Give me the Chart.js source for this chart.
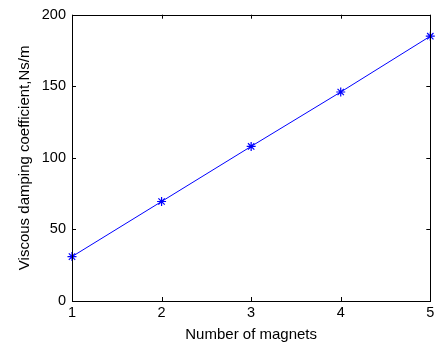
<!DOCTYPE html>
<html>
<head>
<meta charset="utf-8">
<script src="https://cdn.jsdelivr.net/npm/chart.js@4"></script>
<style>
    html, body { margin: 0; padding: 0; background: #fff; }
    #wrap { width: 436px; height: 345px; position: relative; }
</style>
</head>
<body>
<div id="wrap"><canvas id="canvas"></canvas></div>
<script>
const magnets = [1, 2, 3, 4, 5];
const damping = [31, 69.5, 108, 146, 185];
const yTicks = [0, 50, 100, 150, 200];

const FONT = "'Liberation Sans', Arial, sans-serif";

// MATLAB-style box with inward ticks on all four sides
const boxTicks = {
    id: "boxTicks",
    afterDraw(chart) {
        const {ctx, chartArea: a, scales: {x, y}} = chart;
        const len = 4;
        ctx.save();
        ctx.strokeStyle = "#000";
        ctx.lineWidth = 1;
        ctx.strokeRect(Math.round(a.left) + 0.5, Math.round(a.top) + 0.5,
            Math.round(a.right - a.left), Math.round(a.bottom - a.top));
        ctx.beginPath();
        x.ticks.forEach(t => {
            const px = Math.round(x.getPixelForValue(t.value)) + 0.5;
            ctx.moveTo(px, a.bottom); ctx.lineTo(px, a.bottom - len);
            ctx.moveTo(px, a.top); ctx.lineTo(px, a.top + len);
        });
        y.ticks.forEach(t => {
            const py = Math.round(y.getPixelForValue(t.value)) + 0.5;
            ctx.moveTo(a.left, py); ctx.lineTo(a.left + len, py);
            ctx.moveTo(a.right, py); ctx.lineTo(a.right - len, py);
        });
        ctx.stroke();
        ctx.restore();
    }
};

new Chart(document.getElementById("canvas"), {
    type: "scatter",
    data: {
        datasets: [{
            data: magnets.map((m, i) => ({x: m, y: damping[i]})),
            showLine: true,
            borderColor: "#0000ff",
            backgroundColor: "#0000ff",
            borderWidth: 1,
            pointStyle: "star",
            pointRadius: 4.5,
            pointBorderWidth: 1.2,
            clip: false,
        }],
    },
    options: {
        responsive: true,
        maintainAspectRatio: false,
        animation: false,
        plugins: {legend: {display: false}, tooltip: {enabled: false}},
        layout: {padding: {left: 0, right: 2, top: 8, bottom: 0}},
        scales: {
            x: {
                type: "linear",
                min: 1,
                max: 5,
                grid: {display: false, drawTicks: false},
                border: {display: false},
                ticks: {
                    stepSize: 1,
                    color: "#000",
                    padding: 3,
                    font: {family: FONT, size: 14.5},
                },
                title: {
                    display: true,
                    text: "Number of magnets",
                    color: "#000",
                    padding: {top: 0, bottom: 1},
                    font: {family: FONT, size: 15},
                },
                afterFit(s) {
                    s.height = 44;
                    s.paddingLeft = 0;
                    s.paddingRight = 0;
                },
            },
            y: {
                type: "linear",
                min: 0,
                max: 200,
                grid: {display: false, drawTicks: false},
                border: {display: false},
                afterBuildTicks(s) { s.ticks = yTicks.map(v => ({value: v})); },
                ticks: {
                    color: "#000",
                    padding: 6,
                    font: {family: FONT, size: 14.5},
                },
                title: {
                    display: true,
                    text: "Viscous damping coefficient,Ns/m",
                    color: "#000",
                    padding: {top: 16, bottom: 0},
                    font: {family: FONT, size: 15},
                },
                afterFit(s) { s.width = 72; },
            },
        },
    },
    plugins: [boxTicks],
});
</script>
</body>
</html>
